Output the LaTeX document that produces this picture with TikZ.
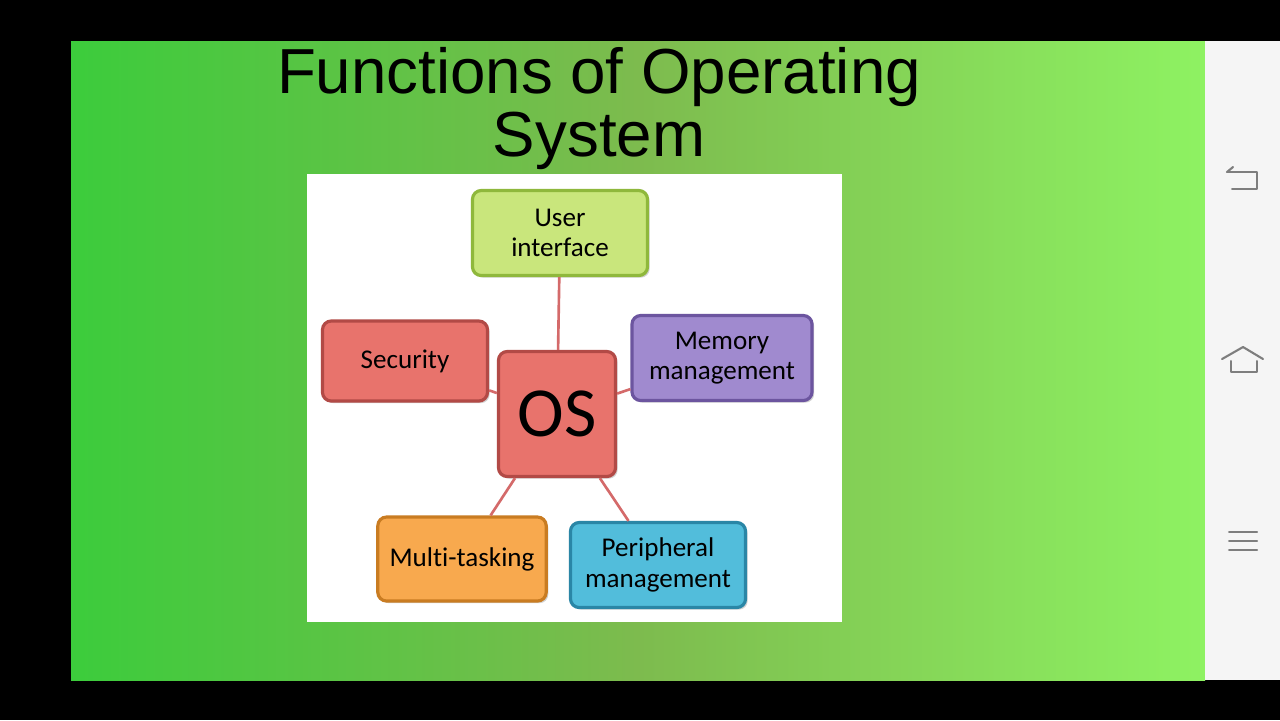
\documentclass[tikz,border=0pt]{standalone}
\usepackage{fontspec}
\setmainfont{Liberation Sans}
\newfontfamily\boxfont[Ligatures=NoCommon]{Carlito}
\usetikzlibrary{shadows}
\definecolor{leftgreen}{HTML}{3CCC3C}
\definecolor{midgreen}{HTML}{7DBB4E}
\definecolor{rightgreen}{HTML}{8EF262}
\definecolor{barwhite}{HTML}{F5F5F5}
\definecolor{icongray}{HTML}{7E7E7E}
\definecolor{linkred}{HTML}{D46A6A}
\definecolor{uifill}{HTML}{C9E67C}
\definecolor{uiedge}{HTML}{8FB83C}
\definecolor{secfill}{HTML}{E8736C}
\definecolor{secedge}{HTML}{B24A46}
\definecolor{memfill}{HTML}{A08ACF}
\definecolor{memedge}{HTML}{6C559F}
\definecolor{multfill}{HTML}{F8A94E}
\definecolor{multedge}{HTML}{C97C22}
\definecolor{perifill}{HTML}{52BDDB}
\definecolor{periedge}{HTML}{2A86A6}

\begin{document}
\begin{tikzpicture}[x=0.01cm,y=-0.01cm,
  box/.style={rectangle,rounded corners=2.5pt,line width=0.9pt,align=center,
    font=\boxfont\fontsize{7.7}{8.6}\selectfont,
    drop shadow={shadow xshift=0.6pt,shadow yshift=-0.6pt,opacity=0.35}},
  link/.style={linkred,line width=0.75pt},
  navicon/.style={icongray,line width=0.6pt,line cap=round,line join=round}]
  \useasboundingbox (0,0) rectangle (1280,720);
  \fill[black] (0,0) rectangle (1280,720);
  \shade[left color=leftgreen,right color=rightgreen,middle color=midgreen] (71,41) rectangle (1205,680);
  \fill[barwhite] (1205,41) rectangle (1280,680);
  % navigation bar
  \draw[navicon] (1227,172) -- (1257,172) -- (1257,189) -- (1232,189);
  \draw[navicon] (1227,172) -- (1233,167);
  \draw[navicon] (1222,359) -- (1243,347) -- (1263,359);
  \draw[navicon] (1231,361) -- (1231,372) -- (1257,372) -- (1257,361);
  \foreach \y in {532,541,550}
    \draw[navicon] (1229,\y) -- (1257,\y);

  \node[font=\fontsize{18.1}{17.8}\selectfont,align=center,anchor=base] (title) at (599,156) {Functions of Operating\\System};

  \fill[white] (307,174) rectangle (842,622);
  \node[box,fill=uifill,draw=uiedge,minimum width=1.75cm,minimum height=0.85cm] (ui) at (560,233) {User\\interface};
  \node[box,fill=secfill,draw=secedge,minimum width=1.65cm,minimum height=0.8cm] (sec) at (405,361) {Security};
  \node[box,fill=memfill,draw=memedge,minimum width=1.8cm,minimum height=0.85cm] (mem) at (722,358) {Memory\\management};
  \node[box,fill=secfill,draw=secedge,minimum width=1.17cm,minimum height=1.25cm,font=\boxfont\fontsize{20}{21}\selectfont] (os) at (557,414) {OS};
  \node[box,fill=multfill,draw=multedge,minimum width=1.66cm,minimum height=0.84cm] (multi) at (462,559) {Multi-tasking};
  \node[box,fill=perifill,draw=periedge,minimum width=1.75cm,minimum height=0.85cm] (peri) at (658,565) {Peripheral\\management};
  \draw[link] (os) -- (ui);
  \draw[link] (os) -- (sec);
  \draw[link] (os) -- (mem);
  \draw[link] (os) -- (multi);
  \draw[link] (os) -- (peri);
\end{tikzpicture}
\end{document}
